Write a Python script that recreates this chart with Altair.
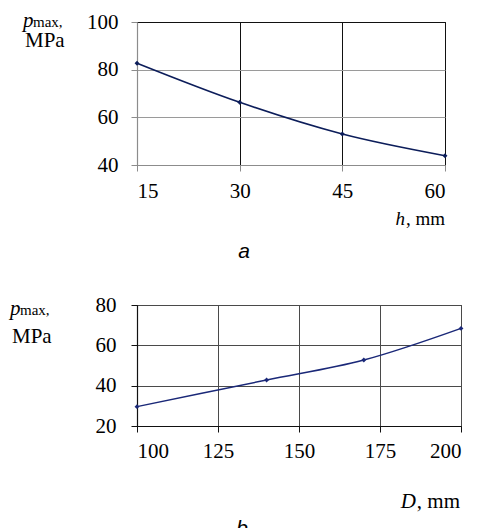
import altair as alt
import pandas as pd

# ---- data ----
H_MM = [15, 30, 45, 60]
P_A = [82.7, 66.3, 53.0, 43.9]
D_MM = [100, 140, 170, 200]
P_B = [29.6, 42.8, 52.7, 68.4]

A_X_TICKS = [15, 30, 45, 60]
A_Y_TICKS = [40, 60, 80, 100]
B_X_TICKS = [100, 125, 150, 175, 200]
B_Y_TICKS = [20, 40, 60, 80]

Y_SYM = "p"
Y_SUB = "max,"
Y_UNIT = "MPa"
A_X_SYM = "h"
B_X_SYM = "D"
X_UNIT = ", mm"
A_CAP = "a"
B_CAP = "b"

SERIF = "Liberation Serif"
SANS = "Liberation Sans"
FS = 21

df_a = pd.DataFrame({"x": H_MM, "y": P_A})
df_b = pd.DataFrame({"x": D_MM, "y": P_B})


def txt(s, x, y, size=FS, style="normal", font=SERIF, align="left"):
    return alt.Chart(pd.DataFrame({"t": [s]})).mark_text(
        font=font, fontSize=size, fontStyle=style, align=align,
        baseline="alphabetic", color="black"
    ).encode(text="t:N", x=alt.value(x), y=alt.value(y))


# ---- panel a ----
xa = alt.X("x:Q", scale=alt.Scale(domain=[15, 60], nice=False, zero=False),
           axis=alt.Axis(values=A_X_TICKS, title=None, format="d",
                         gridColor="#111111", domainColor="#8c8c8c",
                         tickColor="#8c8c8c", labelPadding=9))
ya = alt.Y("y:Q", scale=alt.Scale(domain=[40, 100], nice=False, zero=False),
           axis=alt.Axis(values=A_Y_TICKS, title=None, format="d",
                         gridColor=alt.condition("datum.value == 100",
                                                 alt.value("#111111"),
                                                 alt.value("#9a9a9a")),
                         domainColor="#8c8c8c", tickColor="#8c8c8c",
                         labelPadding=13))
base_a = alt.Chart(df_a).encode(x=xa, y=ya)
line_a = base_a.mark_line(color="#0c1d5a", strokeWidth=1.6, interpolate="monotone")
pts_a = base_a.mark_point(shape="diamond", filled=True, size=24, color="#0c1d5a", opacity=1)

panel_a = alt.layer(
    line_a, pts_a,
    txt(Y_SYM, -114, 5, style="italic"),
    txt(Y_SUB, -104, 5, size=15),
    txt(Y_UNIT, -112, 25),
    txt(X_UNIT, 308, 203, size=19, align="right"),
    txt(A_X_SYM, 268, 203, size=19, style="italic", align="right"),
    txt(A_CAP, 107, 236, style="italic", font=SANS, align="center"),
).properties(width=308, height=143)

# ---- panel b ----
xb = alt.X("x:Q", scale=alt.Scale(domain=[100, 200], nice=False, zero=False),
           axis=alt.Axis(values=B_X_TICKS, title=None, format="d",
                         gridColor="#4a4a4a", domainColor="#111111",
                         tickColor="#111111", labelPadding=8))
yb = alt.Y("y:Q", scale=alt.Scale(domain=[20, 80], nice=False, zero=False),
           axis=alt.Axis(values=B_Y_TICKS, title=None, format="d",
                         gridColor="#4a4a4a", domainColor="#111111",
                         tickColor="#111111", labelPadding=15))
base_b = alt.Chart(df_b).encode(x=xb, y=yb)
line_b = base_b.mark_line(color="#1a2878", strokeWidth=1.5, interpolate="monotone")
pts_b = base_b.mark_point(shape="diamond", filled=True, size=24, color="#1a2878", opacity=1)

panel_b = alt.layer(
    line_b, pts_b,
    txt(Y_SYM, -127, 10, style="italic"),
    txt(Y_SUB, -117, 10, size=15),
    txt(Y_UNIT, -125, 38),
    txt(X_UNIT, 323, 203, align="right"),
    txt(B_X_SYM, 279, 203, style="italic", align="right"),
    txt(B_CAP, 105, 230, style="italic", font=SANS, align="center"),
).properties(width=324, height=121)

chart = alt.vconcat(panel_a, panel_b, spacing=30).properties(
    padding={"left": 1, "top": 1, "right": 0, "bottom": 0},
    background="white"
).configure_view(stroke="#111111", strokeWidth=1).configure_axis(
    labelFont=SERIF, labelFontSize=FS, labelColor="black", tickSize=6,
    grid=True, gridWidth=1, domainWidth=1.2, tickWidth=1
)

chart.save("out.html", embed_options={"renderer": "svg", "actions": False})
